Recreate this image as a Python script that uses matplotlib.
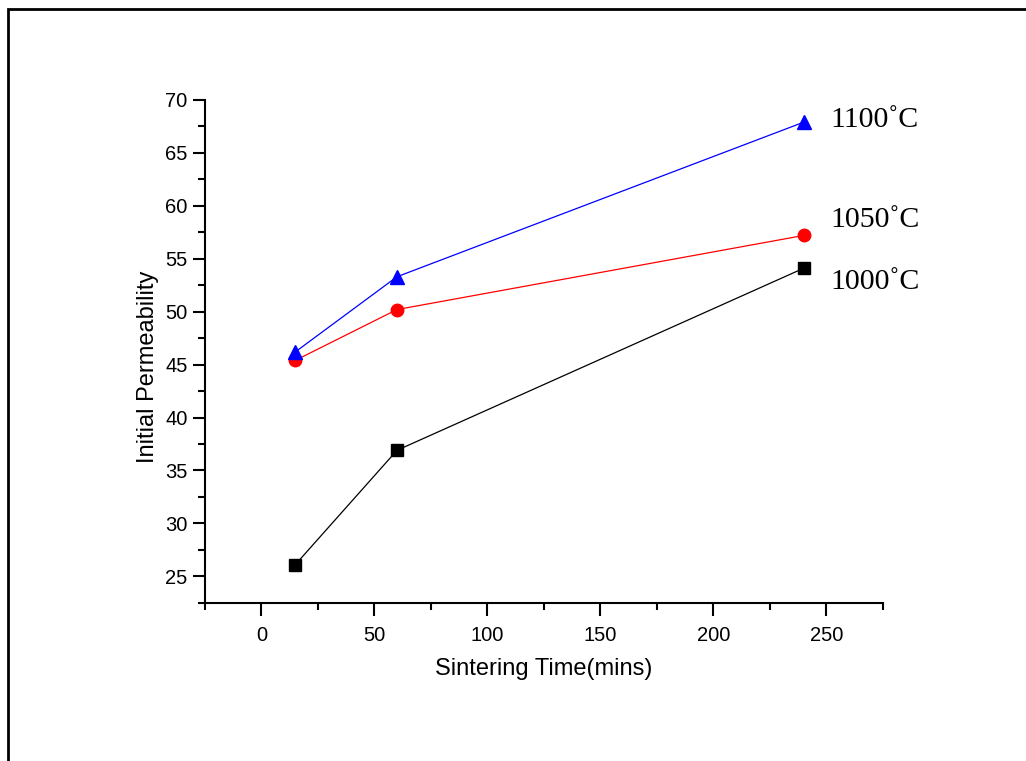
import matplotlib.pyplot as plt
from matplotlib.patches import Rectangle
from matplotlib.ticker import MultipleLocator

times = [15, 60, 240]
perm_1000 = [26.1, 36.9, 54.1]
perm_1050 = [45.4, 50.2, 57.2]
perm_1100 = [46.2, 53.3, 67.9]
temps = ['1000˚C', '1050˚C', '1100˚C']

plt.rcParams['font.family'] = ['Liberation Sans', 'DejaVu Sans']

fig = plt.figure(figsize=(10.26, 7.61), dpi=100)
ax = fig.add_axes([0.1998, 0.208, 0.6605, 0.6606])

# outer frame, cut off at the right and bottom edges
fig.patches.append(Rectangle((0.0075, -0.05), 1.1, 0.038 + 1.0, transform=fig.transFigure,
                             fill=False, edgecolor='black', linewidth=2))

ax.plot(times, perm_1000, color='black', marker='s', markersize=8, linewidth=0.9)
ax.plot(times, perm_1050, color='red', marker='o', markersize=9, linewidth=0.9)
ax.plot(times, perm_1100, color='blue', marker='^', markersize=10, linewidth=0.9)

label_y = [perm_1000[-1] - 1.3, perm_1050[-1] + 1.5, perm_1100[-1] + 0.2]
for t, yv in zip(temps, label_y):
    ax.text(252, yv, t, fontsize=21.5, family=['Liberation Serif', 'DejaVu Serif'],
            va='center', ha='left', clip_on=False)

ax.set_xlim(-25, 275)
ax.set_ylim(22.5, 70)
ax.xaxis.set_major_locator(MultipleLocator(50))
ax.xaxis.set_minor_locator(MultipleLocator(25))
ax.yaxis.set_major_locator(MultipleLocator(5))
ax.yaxis.set_minor_locator(MultipleLocator(2.5))

for s in ['top', 'right']:
    ax.spines[s].set_visible(False)
for s in ['left', 'bottom']:
    ax.spines[s].set_linewidth(1.5)

ax.tick_params(which='major', direction='out', length=9, width=1.5, labelsize=14.5)
ax.tick_params(which='minor', direction='out', length=5, width=1.5)
ax.tick_params(axis='x', pad=8)

ax.set_xlabel('Sintering Time(mins)', fontsize=17, labelpad=9)
ax.set_ylabel('Initial Permeability', fontsize=17, labelpad=9)
ax.yaxis.set_label_coords(-0.068, 0.47)

fig.savefig('out.png', dpi=100)
